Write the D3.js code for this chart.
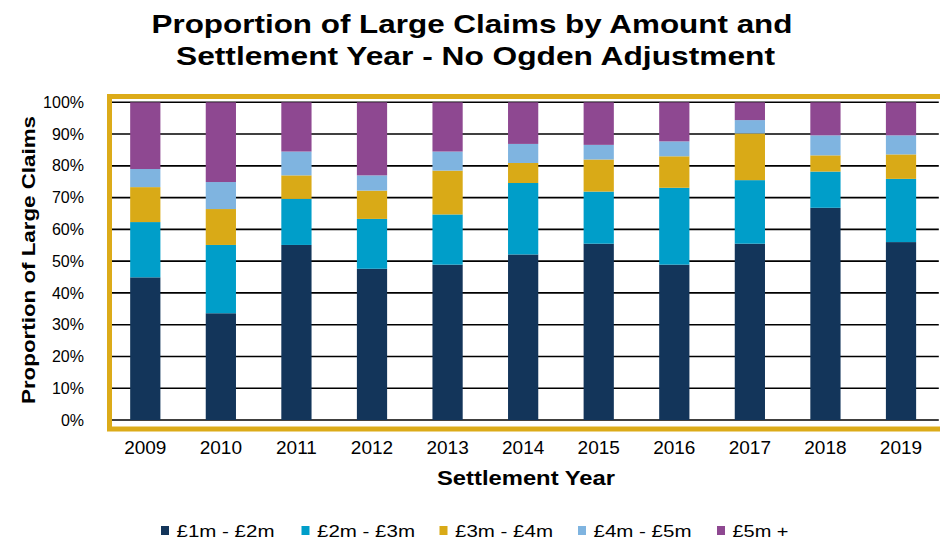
<!DOCTYPE html>
<html>
<head>
<meta charset="utf-8">
<script src="https://cdn.jsdelivr.net/npm/d3@7"></script>
<style>
    body { margin: 0; background: #fff; }
    svg { display: block; font-family: "Liberation Sans", Arial, sans-serif; }
</style>
</head>
<body>
<script>
(function(){

    var years = ["2009", "2010", "2011", "2012", "2013", "2014", "2015", "2016", "2017", "2018", "2019"];
    var bands = ["£1m - £2m", "£2m - £3m", "£3m - £4m", "£4m - £5m", "£5m +"];

    // share of large claims in each band, percent
    var band1to2 = [44.9, 33.6, 55.1, 47.6, 48.9, 52.1, 55.5, 48.9, 55.5, 66.8, 56.0];
    var band2to3 = [17.4, 21.5, 14.5, 15.7, 15.8, 22.5, 16.4, 24.2, 20.0, 11.4, 19.9];
    var band3to4 = [11.0, 11.3, 7.4, 8.9, 13.8, 6.3, 10.1, 9.9, 14.7, 5.1, 7.7];
    var band4to5 = [5.7, 8.5, 7.5, 4.8, 6.0, 6.0, 4.6, 4.7, 4.2, 6.3, 6.0];
    var band5plus = [21.0, 25.1, 15.5, 23.0, 15.5, 13.1, 13.4, 12.3, 5.6, 10.4, 10.4];

    var yTicks = [0, 10, 20, 30, 40, 50, 60, 70, 80, 90, 100];

    var colors = ["#13355a", "#009ec9", "#d9aa17", "#7fb4e0", "#8e4891"];

    window.onload = setChart();

    function setChart() {

        var width = 940,
            height = 541,
            left = 107.5,
            right = 938.8,
            top = 102.3,
            bottom = 420;

        var svg = d3.select("body")
            .append("svg")
            .attr("width", width)
            .attr("height", height);

        var table = years.map(function(y, i) {
            return {
                year: y,
                b0: band1to2[i],
                b1: band2to3[i],
                b2: band3to4[i],
                b3: band4to5[i],
                b4: band5plus[i]
            };
        });
        var keys = ["b0", "b1", "b2", "b3", "b4"];

        var series = d3.stack().keys(keys)(table);

        var xScale = d3.scaleBand()
            .domain(years)
            .range([left, right])
            .paddingInner(0.6)
            .paddingOuter(0.3);

        var yScale = d3.scaleLinear()
            .domain([0, 100])
            .range([bottom, top]);

        // gridlines
        svg.append("g")
            .selectAll("line")
            .data(yTicks)
            .enter()
            .append("line")
            .attr("x1", 112)
            .attr("x2", right)
            .attr("y1", function(d) { return yScale(d); })
            .attr("y2", function(d) { return yScale(d); })
            .attr("stroke", "#000")
            .attr("stroke-width", 1.6);

        // bars
        svg.append("g")
            .selectAll("g")
            .data(series)
            .enter()
            .append("g")
            .attr("fill", function(d, i) { return colors[i]; })
            .selectAll("rect")
            .data(function(d) { return d; })
            .enter()
            .append("rect")
            .attr("x", function(d) { return xScale(d.data.year); })
            .attr("width", xScale.bandwidth())
            .attr("y", function(d) { return yScale(Math.min(d[1], 100)); })
            .attr("height", function(d) { return yScale(d[0]) - yScale(Math.min(d[1], 100)); });

        // gold frame
        svg.append("rect")
            .attr("x", 109.5)
            .attr("y", 96.5)
            .attr("width", 840)
            .attr("height", 332.5)
            .attr("fill", "none")
            .attr("stroke", "#dcab19")
            .attr("stroke-width", 5);

        // y axis labels
        var yAxis = d3.axisLeft(yScale)
            .tickValues(yTicks)
            .tickSize(0)
            .tickPadding(0)
            .tickFormat(function(d) { return d + "%"; });

        var yg = svg.append("g")
            .attr("transform", "translate(84,0)")
            .call(yAxis);
        yg.select(".domain").remove();
        yg.selectAll("text")
            .attr("font-size", 16)
            .attr("font-family", "Liberation Sans, Arial, sans-serif")
            .attr("fill", "#000");

        // x axis labels
        var xAxis = d3.axisBottom(xScale)
            .tickSize(0)
            .tickPadding(0);

        var xg = svg.append("g")
            .attr("transform", "translate(0,438)")
            .call(xAxis);
        xg.select(".domain").remove();
        xg.selectAll("text")
            .attr("dy", 0)
            .attr("y", 16)
            .attr("font-size", 19)
            .attr("font-family", "Liberation Sans, Arial, sans-serif")
            .attr("fill", "#000");

        // titles
        svg.append("text")
            .attr("x", 472)
            .attr("y", 33)
            .attr("text-anchor", "middle")
            .attr("font-size", 25)
            .attr("font-weight", "bold")
            .attr("textLength", 641)
            .attr("lengthAdjust", "spacingAndGlyphs")
            .text("Proportion of Large Claims by Amount and");

        svg.append("text")
            .attr("x", 475.5)
            .attr("y", 64.5)
            .attr("text-anchor", "middle")
            .attr("font-size", 25)
            .attr("font-weight", "bold")
            .attr("textLength", 599)
            .attr("lengthAdjust", "spacingAndGlyphs")
            .text("Settlement Year - No Ogden Adjustment");

        svg.append("text")
            .attr("x", 526)
            .attr("y", 484.5)
            .attr("text-anchor", "middle")
            .attr("font-size", 20)
            .attr("font-weight", "bold")
            .attr("textLength", 178)
            .attr("lengthAdjust", "spacingAndGlyphs")
            .text("Settlement Year");

        svg.append("text")
            .attr("transform", "translate(35,260) rotate(-90)")
            .attr("text-anchor", "middle")
            .attr("font-size", 19)
            .attr("font-weight", "bold")
            .attr("textLength", 288)
            .attr("lengthAdjust", "spacingAndGlyphs")
            .text("Proportion of Large Claims");

        // legend
        var legendX = [161, 301.5, 439.5, 578, 717];

        var legend = svg.append("g")
            .selectAll("g")
            .data(bands)
            .enter()
            .append("g")
            .attr("transform", function(d, i) { return "translate(" + legendX[i] + ",0)"; });

        legend.append("rect")
            .attr("x", 0)
            .attr("y", 526)
            .attr("width", 8)
            .attr("height", 9)
            .attr("fill", function(d, i) { return colors[i]; });

        legend.append("text")
            .attr("x", 15.5)
            .attr("y", 536.5)
            .attr("font-size", 16)
            .attr("textLength", function(d, i) { return i == 4 ? 56 : 98; })
            .attr("lengthAdjust", "spacingAndGlyphs")
            .text(function(d) { return d; });
    }

})();
</script>
</body>
</html>
